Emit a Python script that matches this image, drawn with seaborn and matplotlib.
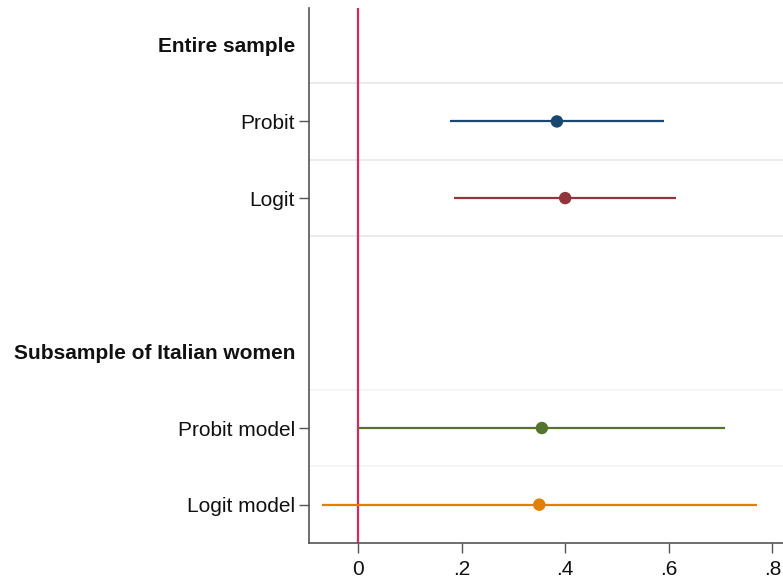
import numpy as np
import pandas as pd
import matplotlib
matplotlib.use("Agg")
import matplotlib.pyplot as plt
import seaborn as sns

# ============= DATA =============
row_labels = ["Entire sample", "Probit", "Logit", "",
              "Subsample of Italian women", "Probit model", "Logit model"]
heading_rows = [0, 4]

models = ["Probit", "Logit", "Probit model", "Logit model"]
model_rows = [1, 2, 5, 6]
coef = [0.384, 0.400, 0.355, 0.350]
ci_low = [0.178, 0.185, 0.001, -0.070]
ci_high = [0.591, 0.614, 0.709, 0.770]
colors = ["#1a476f", "#90353b", "#55752f", "#e37e00"]

df = pd.DataFrame({"model": models, "row": model_rows, "coef": coef,
                   "lo": ci_low, "hi": ci_high})

# ============= PLOT =============
sns.set_style("white")
plt.rcParams["font.family"] = ["Liberation Sans", "DejaVu Sans"]

fig = plt.figure(figsize=(7.83, 5.84), dpi=100)
ax = fig.add_axes([0.3946, 0.0702, 0.6054, 0.9161])

# faint separators between rows
for y, c in zip([0.5, 1.5, 2.5, 4.5, 5.5],
                ["#e8e8e8", "#e8e8e8", "#e8e8e8", "#f5f5f5", "#f3f3f3"]):
    ax.axhline(y, color=c, lw=1.2, zorder=0)

ax.axvline(0, color="#e0245e", lw=1.6, zorder=1)

# confidence intervals
for _, r in df.iterrows():
    ax.hlines(r["row"], r["lo"], r["hi"], color=colors[models.index(r["model"])],
              lw=1.6, zorder=2)

sns.scatterplot(data=df, x="coef", y="row", hue="model", palette=colors,
                hue_order=models, s=80, edgecolor="none", legend=False,
                zorder=3, ax=ax)

ax.set_xlim(-0.0946, 0.8205)
ax.set_ylim(6.5, -0.48)
ax.set_xticks([0, 0.2, 0.4, 0.6, 0.8])
ax.set_xticklabels(["0", ".2", ".4", ".6", ".8"], fontsize=15)
ax.set_yticks(range(len(row_labels)))
ax.set_yticklabels(row_labels, fontsize=15)
ax.set_xlabel("")
ax.set_ylabel("")

ax.tick_params(axis="both", length=7, width=1, color="#555555",
               left=True, bottom=True, pad=3)
ax.tick_params(axis="x", pad=5)
for i, tick in enumerate(ax.yaxis.get_major_ticks()):
    if i in heading_rows:
        tick.label1.set_fontweight("bold")
        tick.tick1line.set_visible(False)
    elif row_labels[i] == "":
        tick.tick1line.set_visible(False)
for lab in ax.get_yticklabels() + ax.get_xticklabels():
    lab.set_color("#111111")

for s in ["top", "right"]:
    ax.spines[s].set_visible(False)
for s in ["left", "bottom"]:
    ax.spines[s].set_color("#555555")
    ax.spines[s].set_linewidth(1.2)

fig.savefig("out.png", dpi=100)
